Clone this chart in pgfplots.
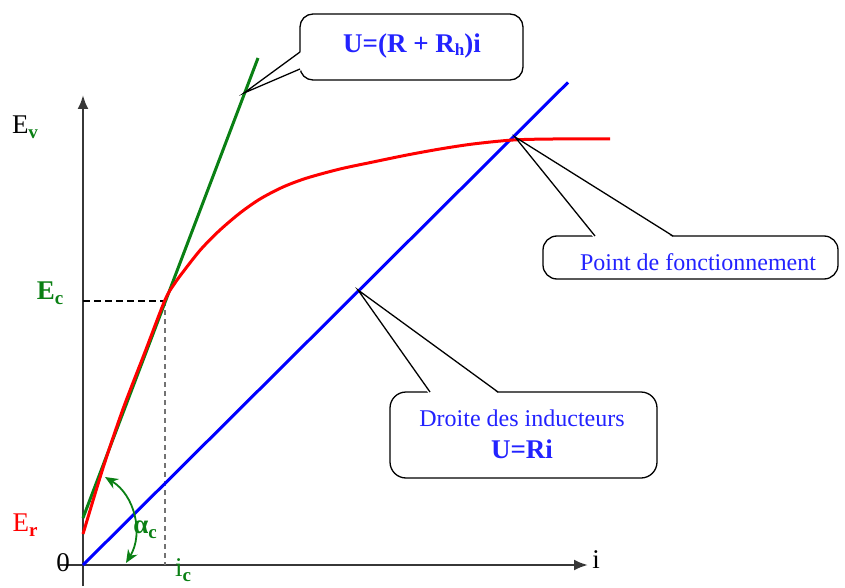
\documentclass[border=0pt]{standalone}
\usepackage{pgfplots}
\pgfplotsset{compat=1.18}
\usepackage{pgfplotstable}
\usepackage{fontspec}
\setmainfont{Liberation Serif}
\usetikzlibrary{arrows.meta}

\definecolor{cgreen}{RGB}{10,128,20}
\definecolor{cred}{RGB}{255,0,0}
\definecolor{cblue}{RGB}{0,0,255}
\definecolor{ctext}{RGB}{35,35,255}
\definecolor{caxis}{RGB}{55,55,55}

% magnetisation curve E(i)
\pgfplotstableread{
x   y
0   31
20  97
40  156
62  213
82  265
92  282
100 293
110 306
120 318
137 335
157 352
177 366
200 378
224 387
257 396
290 403
324 410
357 416
390 421
430 425
470 426
527 426
}\magcurve

\newcommand{\txtfont}{\fontsize{24}{28}\selectfont}
\newcommand{\eqfont}{\fontsize{27}{32}\selectfont\bfseries}
\newcommand{\labfont}{\fontsize{27}{30}\selectfont}
\newcommand{\subfont}{\fontsize{19}{22}\selectfont\bfseries}

\begin{document}
\begin{tikzpicture}
\begin{axis}[
  width=845pt, height=586pt, scale only axis,
  xmin=-83, xmax=762, ymin=-21, ymax=565,
  axis lines=none, clip=false,
]
\path (rel axis cs:0,0) rectangle (rel axis cs:1,1);

% axes
\draw[caxis, line width=2.4pt, -{Latex[length=14pt,width=11pt]}] (axis cs:0,-21) -- (axis cs:0,470);
\draw[caxis, line width=2.4pt, -{Latex[length=14pt,width=11pt]}] (axis cs:-23,0) -- (axis cs:505,0);

% construction lines at the critical point
\draw[black, line width=1.4pt, dash pattern=on 7pt off 4pt] (axis cs:0,264) -- (axis cs:82,264);
\draw[black!55, line width=1.8pt, dash pattern=on 5pt off 4pt] (axis cs:82,264) -- (axis cs:82,0);

% field resistance line U = R i
\addplot[cblue, line width=3pt] coordinates {(0,0) (485,482.6)};
% critical line U = (R + Rh) i
\addplot[cgreen, line width=3pt] coordinates {(0,47) (175,507)};
% E(i)
\addplot[cred, line width=3pt, smooth] table {\magcurve};

% angle alpha_c
\draw[cgreen, line width=1.8pt, {Stealth[length=13pt,width=11pt]}-{Stealth[length=13pt,width=11pt]}]
  (axis cs:22,88) to[bend left=45] (axis cs:43,2);

% axis labels
\node[anchor=base] at (axis cs:-58,431) {\labfont E\textcolor{cgreen}{\subfont\raisebox{-5pt}{v}}};
\node[anchor=base] at (axis cs:-33,266) {\labfont\bfseries\color{cgreen}E\subfont\raisebox{-5pt}{c}};
\node[anchor=base] at (axis cs:-58,34) {\labfont\color{cred}E\subfont\raisebox{-5pt}{r}};
\node[anchor=base] at (axis cs:-20,-6) {\labfont 0};
\node[anchor=base] at (axis cs:513,-3) {\labfont i};
\node[anchor=base] at (axis cs:100,-11) {\labfont\color{cgreen}i\subfont\raisebox{-5pt}{c}};
\node[anchor=base, text=cgreen] at (axis cs:62,32) {\labfont\bfseries α\raisebox{-5pt}{\subfont c}};

% callout: critical line
\draw[black, line width=1.3pt, fill=white, rounded corners=13pt] (axis cs:217,485) rectangle (axis cs:440,551);
\fill[white] (axis cs:219,514) -- (axis cs:161,472) -- (axis cs:219,495) -- cycle;
\draw[black, line width=1.3pt] (axis cs:217,513) -- (axis cs:161,472) -- (axis cs:217,496);
\node[text=ctext] at (axis cs:329,519) {\eqfont U=(R + R\raisebox{-3pt}{\fontsize{17}{20}\selectfont h})i};

% callout: operating point
\draw[black, line width=1.3pt, fill=white, rounded corners=14pt] (axis cs:460,286) rectangle (axis cs:755,329);
\fill[white] (axis cs:511,327) -- (axis cs:432,428) -- (axis cs:591,327) -- cycle;
\draw[black, line width=1.3pt] (axis cs:512,329) -- (axis cs:432,428) -- (axis cs:590,329);
\node[text=ctext] at (axis cs:615,303) {\txtfont Point de fonctionnement};

% callout: field resistance line
\draw[black, line width=1.3pt, fill=white, rounded corners=16pt] (axis cs:307,87) rectangle (axis cs:574,173);
\fill[white] (axis cs:346,171) -- (axis cs:275,275) -- (axis cs:416,171) -- cycle;
\draw[black, line width=1.3pt] (axis cs:347,173) -- (axis cs:275,275) -- (axis cs:415,173);
\node[text=ctext] at (axis cs:439,147) {\txtfont Droite des inducteurs};
\node[text=ctext] at (axis cs:439,116) {\eqfont U=Ri};
\end{axis}
\end{tikzpicture}
\end{document}
